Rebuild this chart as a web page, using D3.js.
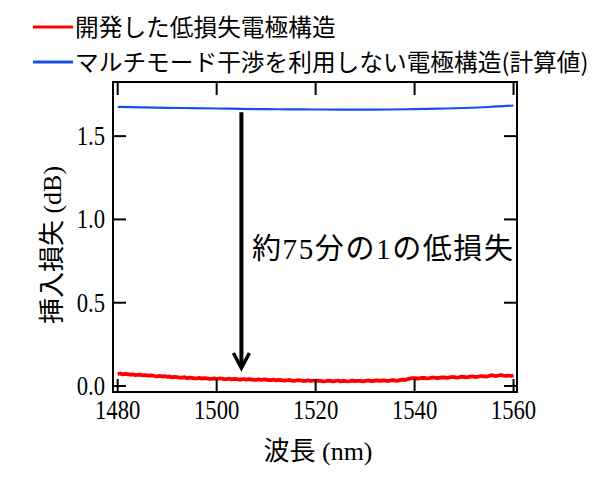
<!DOCTYPE html>
<html>
<head>
<meta charset="utf-8">
<script src="https://cdn.jsdelivr.net/npm/d3@7"></script>
<style>
  html, body { margin: 0; padding: 0; background: #fff; }
  svg { display: block; }
</style>
</head>
<body>
<svg id="chart" width="610" height="486"></svg>
<script>
// ---------- data ----------
const redWavelengths = d3.range(1480, 1560.1, 0.5);
const redLoss = [
  0.072, 0.075, 0.070, 0.073, 0.071, 0.068, 0.070, 0.066, 0.067, 0.069,
  0.064, 0.066, 0.062, 0.064, 0.063, 0.060, 0.058, 0.061, 0.057, 0.059,
  0.055, 0.057, 0.052, 0.055, 0.053, 0.050, 0.050, 0.053, 0.047, 0.050,
  0.049, 0.046, 0.046, 0.049, 0.044, 0.047, 0.046, 0.043, 0.043, 0.046,
  0.042, 0.045, 0.044, 0.041, 0.041, 0.044, 0.040, 0.043, 0.042, 0.039,
  0.039, 0.042, 0.038, 0.041, 0.040, 0.037, 0.037, 0.040, 0.036, 0.039,
  0.038, 0.035, 0.035, 0.038, 0.034, 0.036, 0.036, 0.033, 0.033, 0.036,
  0.034, 0.031, 0.032, 0.035, 0.033, 0.030, 0.031, 0.034, 0.030, 0.033,
  0.030, 0.032, 0.031, 0.028, 0.029, 0.032, 0.031, 0.028, 0.030, 0.033,
  0.028, 0.031, 0.030, 0.027, 0.030, 0.032, 0.029, 0.031, 0.031, 0.028,
  0.030, 0.033, 0.031, 0.029, 0.032, 0.034, 0.031, 0.033, 0.033, 0.030,
  0.032, 0.035, 0.033, 0.031, 0.035, 0.038, 0.036, 0.040, 0.044, 0.047,
  0.047, 0.045, 0.046, 0.049, 0.048, 0.046, 0.047, 0.050, 0.050, 0.048,
  0.049, 0.052, 0.051, 0.049, 0.051, 0.054, 0.053, 0.050, 0.052, 0.056,
  0.054, 0.052, 0.055, 0.058, 0.056, 0.054, 0.057, 0.060, 0.058, 0.056,
  0.060, 0.065, 0.062, 0.060, 0.063, 0.066, 0.062, 0.061, 0.063, 0.060,
  0.063
];
const blueWavelengths = [1480, 1485, 1490, 1495, 1500, 1505, 1510, 1515, 1520, 1525, 1530, 1535, 1540, 1545, 1550, 1555, 1560];
const blueLoss = [1.676, 1.673, 1.670, 1.668, 1.666, 1.664, 1.662, 1.661, 1.660, 1.659, 1.659, 1.660, 1.662, 1.665, 1.669, 1.675, 1.684];
const xTicks = [1480, 1500, 1520, 1540, 1560];
const yTicks = [0.0, 0.5, 1.0, 1.5];
const legendLabels = ["開発した低損失電極構造", "マルチモード干渉を利用しない電極構造(計算値)"];
const xTitle = "波長 (nm)";
const yTitle = "挿入損失 (dB)";
const annotationText = "約75分の1の低損失";
const arrowX = 1505, arrowTop = 1.644, arrowBottom = 0.108;

// ---------- layout ----------
const svg = d3.select("#chart");
const L = 113, R = 517, T = 82, B = 392;
const x = d3.scaleLinear().domain([1479.05, 1560.7]).range([L, R]);
const y = d3.scaleLinear().domain([-0.036, 1.825]).range([B, T]);
const serif = "'Liberation Serif', 'Times New Roman', serif";
const jp = "'Noto Sans CJK JP', 'Noto Sans', sans-serif";
const mixed = "'Liberation Serif', 'Noto Sans CJK JP', serif";
const TL = 13;

// lines
svg.append("path")
  .datum(blueWavelengths.map((w, i) => [w, blueLoss[i]]))
  .attr("d", d3.line().x(d => x(d[0])).y(d => y(d[1])).curve(d3.curveMonotoneX))
  .attr("fill", "none").attr("stroke", "#1450f0").attr("stroke-width", 2.2);
svg.append("path")
  .datum(redWavelengths.map((w, i) => [w, redLoss[i]]).filter(d => d[1] !== undefined))
  .attr("d", d3.line().x(d => x(d[0])).y(d => y(d[1])))
  .attr("fill", "none").attr("stroke", "#ff0000").attr("stroke-width", 3.8)
  .attr("stroke-linejoin", "round");

// frame
svg.append("rect").attr("x", L).attr("y", T).attr("width", R - L).attr("height", B - T)
  .attr("fill", "none").attr("stroke", "#000").attr("stroke-width", 2);

// ticks (mirrored, inward)
const tg = svg.append("g").attr("stroke", "#000").attr("stroke-width", 2);
xTicks.forEach(t => {
  tg.append("line").attr("x1", x(t)).attr("x2", x(t)).attr("y1", B).attr("y2", B - TL);
  tg.append("line").attr("x1", x(t)).attr("x2", x(t)).attr("y1", T).attr("y2", T + TL);
});
yTicks.forEach(t => {
  tg.append("line").attr("y1", y(t)).attr("y2", y(t)).attr("x1", L).attr("x2", L + TL);
  tg.append("line").attr("y1", y(t)).attr("y2", y(t)).attr("x1", R).attr("x2", R - TL);
});

// tick labels
const fmt = d3.format(".1f");
xTicks.forEach(t => {
  svg.append("text").text(t)
    .attr("transform", `translate(${x(t)},419) scale(0.84,1)`)
    .attr("text-anchor", "middle").attr("font-family", serif).attr("font-size", 27).attr("fill", "#000");
});
yTicks.forEach(t => {
  svg.append("text").text(fmt(t))
    .attr("transform", `translate(105,${y(t) + 9}) scale(0.84,1)`)
    .attr("text-anchor", "end").attr("font-family", serif).attr("font-size", 27).attr("fill", "#000");
});

// axis titles
svg.append("text").text(xTitle)
  .attr("x", 318).attr("y", 460).attr("text-anchor", "middle")
  .attr("font-family", mixed).attr("font-size", 26).attr("fill", "#000");
svg.append("text").text(yTitle)
  .attr("transform", "translate(61,245) rotate(-90)").attr("text-anchor", "middle")
  .attr("font-family", mixed).attr("font-size", 26).attr("fill", "#000");

// arrow annotation
const ax = x(arrowX);
svg.append("line").attr("x1", ax).attr("x2", ax).attr("y1", y(arrowTop)).attr("y2", y(arrowBottom) - 1)
  .attr("stroke", "#000").attr("stroke-width", 4);
svg.append("path")
  .attr("d", `M${ax - 8},${y(arrowBottom) - 15} L${ax},${y(arrowBottom)} L${ax + 8},${y(arrowBottom) - 15}`)
  .attr("fill", "none").attr("stroke", "#000").attr("stroke-width", 3.5).attr("stroke-linejoin", "miter");
svg.append("text").text(annotationText)
  .attr("x", 252).attr("y", 259)
  .attr("textLength", 261).attr("lengthAdjust", "spacing")
  .attr("font-family", mixed).attr("font-size", 29).attr("fill", "#000");

// legend
const legendColors = ["#ff0000", "#1450f0"];
const legendY = [27, 62];
legendLabels.forEach((lab, i) => {
  svg.append("line").attr("x1", 33).attr("x2", 73).attr("y1", legendY[i]).attr("y2", legendY[i])
    .attr("stroke", legendColors[i]).attr("stroke-width", 3);
  svg.append("text").text(lab).attr("x", 75).attr("y", legendY[i] + 8.5)
    .attr("font-family", jp).attr("font-size", 23.7).attr("fill", "#000");
});
</script>
</body>
</html>
